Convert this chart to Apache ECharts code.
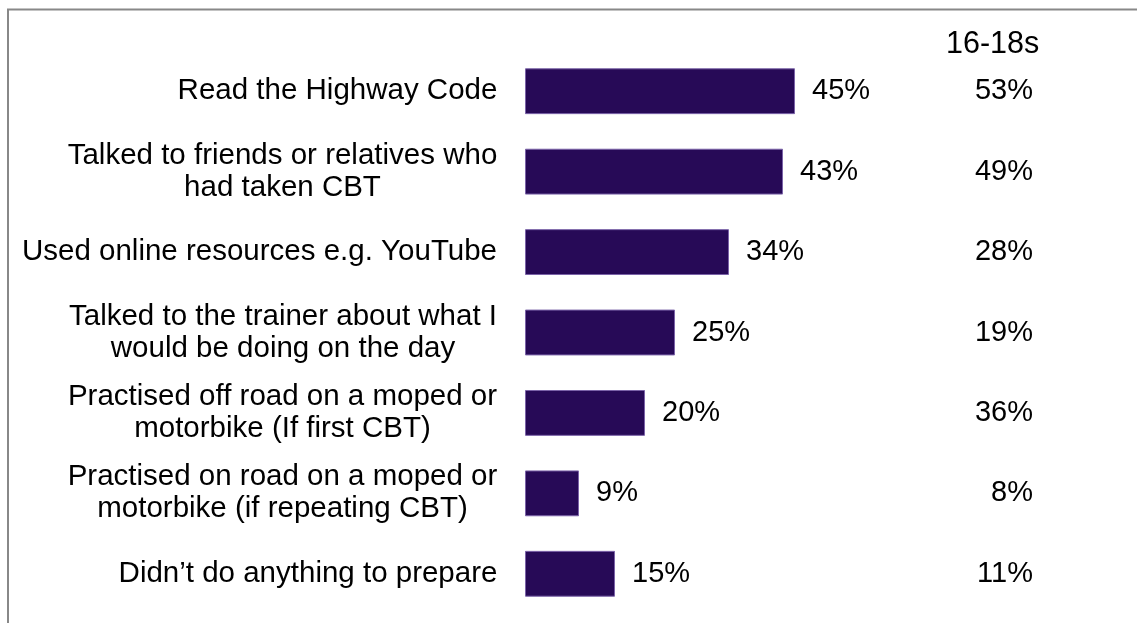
<!DOCTYPE html>
<html>
<head>
<meta charset="utf-8">
<script src="https://cdn.jsdelivr.net/npm/echarts@6/dist/echarts.min.js"></script>
<style>
  html, body { margin: 0; padding: 0; background: #fff; }
  #chart { width: 1137px; height: 623px; }
</style>
</head>
<body>
<div id="chart"></div>
<script>
// 数据
var categories = [
    'Read the Highway Code',
    'Talked to friends or relatives who\nhad taken CBT',
    'Used online resources e.g. YouTube',
    'Talked to the trainer about what I\nwould be doing on the day',
    'Practised off road on a moped or\nmotorbike (If first CBT)',
    'Practised on road on a moped or\nmotorbike (if repeating CBT)',
    'Didn\u2019t do anything to prepare'
];
var allValues = [45, 43, 34, 25, 20, 9, 15];
var teenValues = [53, 49, 28, 19, 36, 8, 11];
var teenHeader = '16-18s';

var FONT = '"Liberation Sans", Arial, sans-serif';
var SIZE = 29.5;
var VAL_SIZE = 29;

// 测量每个标签最宽一行, 让多行文字居中排列
var ctx = document.createElement('canvas').getContext('2d');
ctx.font = SIZE + 'px ' + FONT;
var rich = {};
categories.forEach(function (c, i) {
    var w = 0;
    c.split('\n').forEach(function (line) {
        w = Math.max(w, ctx.measureText(line).width);
    });
    rich['w' + i] = {
        width: Math.ceil(w) + 1,
        align: 'center',
        fontSize: SIZE,
        lineHeight: 32,
        fontFamily: FONT,
        color: '#000'
    };
});

var myChart = echarts.init(document.getElementById('chart'));
var option = {
    animation: false,
    grid: {
        left: 525,
        top: 51,
        right: 192,
        bottom: 9
    },
    graphic: [
        {
            type: 'polyline',
            shape: { points: [[8, 623], [8, 9.5], [1137, 9.5]] },
            style: { stroke: '#888', lineWidth: 2, fill: null }
        },
        {
            type: 'text',
            left: 946,
            top: 29,
            style: { text: teenHeader, font: '30.5px ' + FONT, fill: '#000' }
        }
    ],
    xAxis: {
        type: 'value',
        min: 0,
        max: 70,
        show: false
    },
    yAxis: [
        {
            type: 'category',
            inverse: true,
            data: categories,
            axisLine: { show: false },
            axisTick: { show: false },
            axisLabel: {
                margin: 27,
                align: 'right',
                formatter: function (val, idx) {
                    return val.split('\n').map(function (l) {
                        return '{w' + idx + '|' + l + '}';
                    }).join('\n');
                },
                rich: rich
            }
        },
        {
            type: 'category',
            inverse: true,
            position: 'right',
            data: teenValues.map(function (v) { return v + '%'; }),
            axisLine: { show: false },
            axisTick: { show: false },
            axisLabel: {
                margin: 88,
                align: 'right',
                fontSize: VAL_SIZE,
                fontFamily: FONT,
                color: '#000'
            }
        }
    ],
    series: [
        {
            type: 'bar',
            data: allValues,
            barWidth: '57%',
            itemStyle: {
                color: '#270a57',
                borderColor: '#7b63a8',
                borderWidth: 1
            },
            label: {
                show: true,
                position: 'right',
                distance: 17,
                formatter: '{c}%',
                fontSize: VAL_SIZE,
                fontFamily: FONT,
                color: '#000'
            }
        }
    ]
};
myChart.setOption(option);
</script>
</body>
</html>
